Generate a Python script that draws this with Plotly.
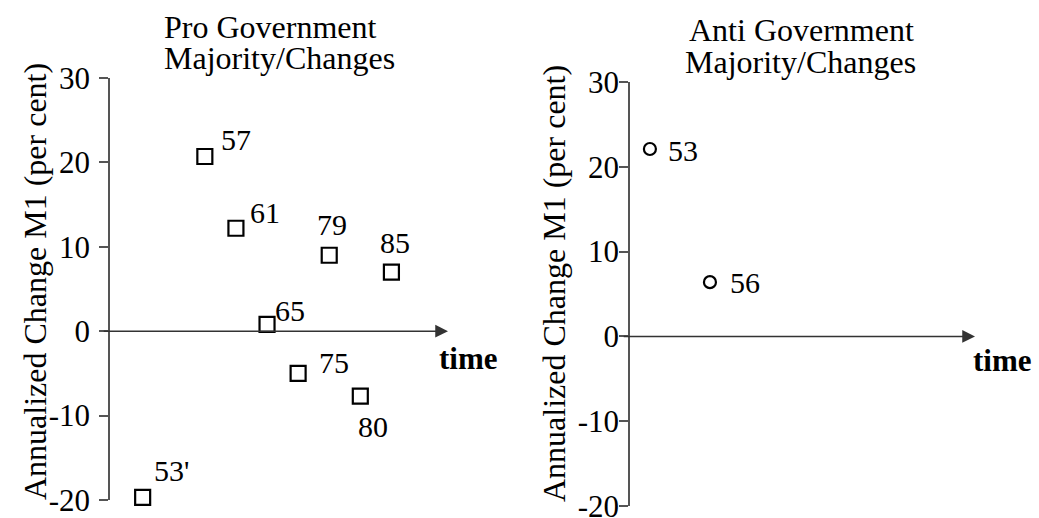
import plotly.graph_objects as go

W, H = 1039, 518

# ---- data ----
pro_labels = ["53'", "57", "61", "65", "75", "79", "80", "85"]
pro_time = [1, 3, 4, 5, 6, 7, 8, 9]
pro_m1 = [-19.7, 20.7, 12.2, 0.8, -5.0, 9.0, -7.7, 7.0]

anti_labels = ["53", "56"]
anti_time = [0.64, 2.57]
anti_m1 = [22.1, 6.4]

ytick_vals = [-20, -10, 0, 10, 20, 30]
ytick_text = ["-20", "-10", "0", "10", "20", "30"]

y_title = "Annualized Change M1 (per cent)"
pro_title = ["Pro Government", "Majority/Changes"]
anti_title = ["Anti Government", "Majority/Changes"]
x_label = "time"

# ---- styles ----
SERIF = "Liberation Serif, Times New Roman, serif"
AX = "#555555"
# label offsets (px, right / up) relative to each marker
pro_label_shift = [(29, 27), (31, 17), (29, 16), (23, 14), (36, 11), (3, 31), (13, -30), (4, 30)]
anti_label_shift = [(33, -2), (35, 0)]

fig = go.Figure()
fig.add_trace(go.Scatter(
    x=pro_time, y=pro_m1, mode="markers", cliponaxis=False,
    marker=dict(symbol="square-open", size=15, color="black",
                line=dict(width=2.2, color="black")),
    xaxis="x", yaxis="y", showlegend=False, hoverinfo="skip"))
fig.add_trace(go.Scatter(
    x=anti_time, y=anti_m1, mode="markers", cliponaxis=False,
    marker=dict(symbol="circle-open", size=12, color="black",
                line=dict(width=2.2, color="black")),
    xaxis="x2", yaxis="y2", showlegend=False, hoverinfo="skip"))


def yax(domain, anchor, standoff):
    return dict(domain=domain, anchor=anchor, range=[-20, 30],
                tickmode="array", tickvals=ytick_vals, ticktext=ytick_text,
                ticks="outside", ticklen=9, tickwidth=1.5, tickcolor=AX,
                showline=True, linecolor=AX, linewidth=1.6,
                showgrid=False, zeroline=False, automargin=False,
                ticklabelstandoff=standoff, ticklabeloverflow="allow",
                tickfont=dict(family=SERIF, size=31, color="black"))


def yax_inner(over, anchor):
    return dict(overlaying=over, anchor=anchor, range=[-20, 30],
                tickmode="array", tickvals=ytick_vals,
                ticks="inside", ticklen=9, tickwidth=1.5, tickcolor=AX,
                showticklabels=False, showline=False, showgrid=False,
                zeroline=False, automargin=False)


x1_range = [-0.05, 10.82]
x2_range = [0.0, 11.09]

fig.update_layout(
    width=W, height=H,
    margin=dict(l=0, r=0, t=0, b=0),
    paper_bgcolor="white", plot_bgcolor="white",
    xaxis=dict(domain=[110 / W, 448 / W], range=x1_range, visible=False, anchor="y"),
    xaxis2=dict(domain=[630 / W, 975 / W], range=x2_range, visible=False, anchor="y2"),
    yaxis=yax([1 - 500 / H, 1 - 78 / H], "x", 3),
    yaxis2=yax([1 - 506 / H, 1 - 82 / H], "x2", -6),
    yaxis3=yax_inner("y", "x"),
    yaxis4=yax_inner("y2", "x2"),
)

ann = []
# point labels
for xs, ys, labs, shifts, xr, yr in ((pro_time, pro_m1, pro_labels, pro_label_shift, "x", "y"),
                                     (anti_time, anti_m1, anti_labels, anti_label_shift, "x2", "y2")):
    for xv, yv, lab, (dx, dy) in zip(xs, ys, labs, shifts):
        ann.append(dict(x=xv, y=yv, xref=xr, yref=yr, text=lab, showarrow=False,
                        xanchor="center", yanchor="middle", xshift=dx, yshift=dy,
                        font=dict(family=SERIF, size=30, color="black")))

# time arrows along zero line
for xr, yr, rng in (("x", "y", x1_range), ("x2", "y2", x2_range)):
    ann.append(dict(x=rng[1], y=0, xref=xr, yref=yr,
                    ax=rng[0] - 0.25, ay=0, axref=xr, ayref=yr,
                    showarrow=True, arrowhead=2, arrowsize=1.7, arrowwidth=1.5,
                    arrowcolor="#333333", text="", standoff=0, startstandoff=0))

# "time" labels
for xpx, ypx in ((468, 358), (1002, 360)):
    ann.append(dict(x=xpx / W, y=1 - ypx / H, xref="paper", yref="paper",
                    text="<b>%s</b>" % x_label, showarrow=False,
                    xanchor="center", yanchor="middle",
                    font=dict(family=SERIF, size=31, color="black")))

# y axis titles
for xpx, ypx in ((35, 282), (554, 284)):
    ann.append(dict(x=xpx / W, y=1 - ypx / H, xref="paper", yref="paper",
                    text=y_title, textangle=-90, showarrow=False,
                    xanchor="center", yanchor="middle",
                    font=dict(family=SERIF, size=32, color="black")))

# panel titles
for lines, xpx, ys in ((pro_title, (162, 162), (27, 58)),
                       (anti_title, (687, 683), (30, 62))):
    for line, xp, yp in zip(lines, xpx, ys):
        ann.append(dict(x=xp / W, y=1 - yp / H, xref="paper", yref="paper",
                        text=line, showarrow=False, xanchor="left", yanchor="middle",
                        font=dict(family=SERIF, size=32, color="black")))

fig.update_layout(annotations=ann)
fig.write_html("out.html", config={"displayModeBar": False},
               post_script="document.body.style.margin='0';")
